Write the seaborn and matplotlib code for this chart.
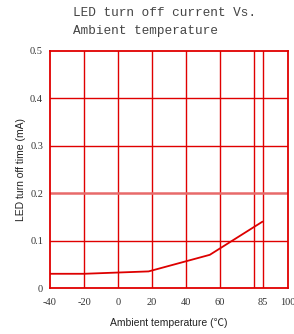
import numpy as np
import pandas as pd
import seaborn as sns
import matplotlib
matplotlib.use("Agg")
import matplotlib.pyplot as plt

# data
temp = [-40, -20, 18, 54, 85]
current = [0.030, 0.030, 0.035, 0.070, 0.140]

xticks = [-40, -20, 0, 20, 40, 60, 85, 100]
xgrid = [-20, 0, 20, 40, 60, 80, 85]
ygrid = [0.1, 0.2, 0.3, 0.4]
yticks = [0, 0.1, 0.2, 0.3, 0.4, 0.5]
ytick_labels = ["0", "0.1", "0.2", "0.3", "0.4", "0.5"]

sns.set_style("white")
red = "#e00000"

fig = plt.figure(figsize=(2.94, 3.34), dpi=100)
ax = fig.add_axes([50 / 294, 46 / 334, 238 / 294, 237 / 334])

df = pd.DataFrame({"t": temp, "i": current})
sns.lineplot(data=df, x="t", y="i", ax=ax, color="#dd0000", lw=1.3)

for x in xgrid:
    ax.axvline(x, color=red, lw=1.0, zorder=0)
for y in ygrid:
    ax.axhline(y, color=("#e86a6a" if y == 0.2 else red),
               lw=(1.8 if y == 0.2 else 1.0), zorder=0)

ax.set_xlim(-40, 100)
ax.set_ylim(0, 0.5)
ax.set_xticks(xticks)
ax.set_xticklabels([str(v) for v in xticks], family="Liberation Serif",
                   fontsize=7.5, color="#333333")
ax.set_yticks(yticks)
ax.set_yticklabels(ytick_labels, family="Liberation Serif", fontsize=7.5,
                   color="#333333")
ax.tick_params(axis="x", length=0, pad=7)
ax.tick_params(axis="y", length=0, pad=5)

for s in ax.spines.values():
    s.set_color(red)
    s.set_linewidth(1.3)

ax.set_xlabel("Ambient temperature (\u2103)",
              family=["Liberation Sans", "Noto Sans CJK SC"],
              fontsize=7.5, color="#222222", labelpad=8)
ax.set_ylabel("LED turn off time (mA)", family="Liberation Sans",
              fontsize=7.5, color="#222222", labelpad=3)

fig.text(73 / 294, 1 - 7 / 334, "LED turn off current Vs.\nAmbient temperature",
         family="Liberation Mono", fontsize=9.2, color="#444444",
         va="top", ha="left", linespacing=1.62)

fig.savefig("out.png", dpi=100)
